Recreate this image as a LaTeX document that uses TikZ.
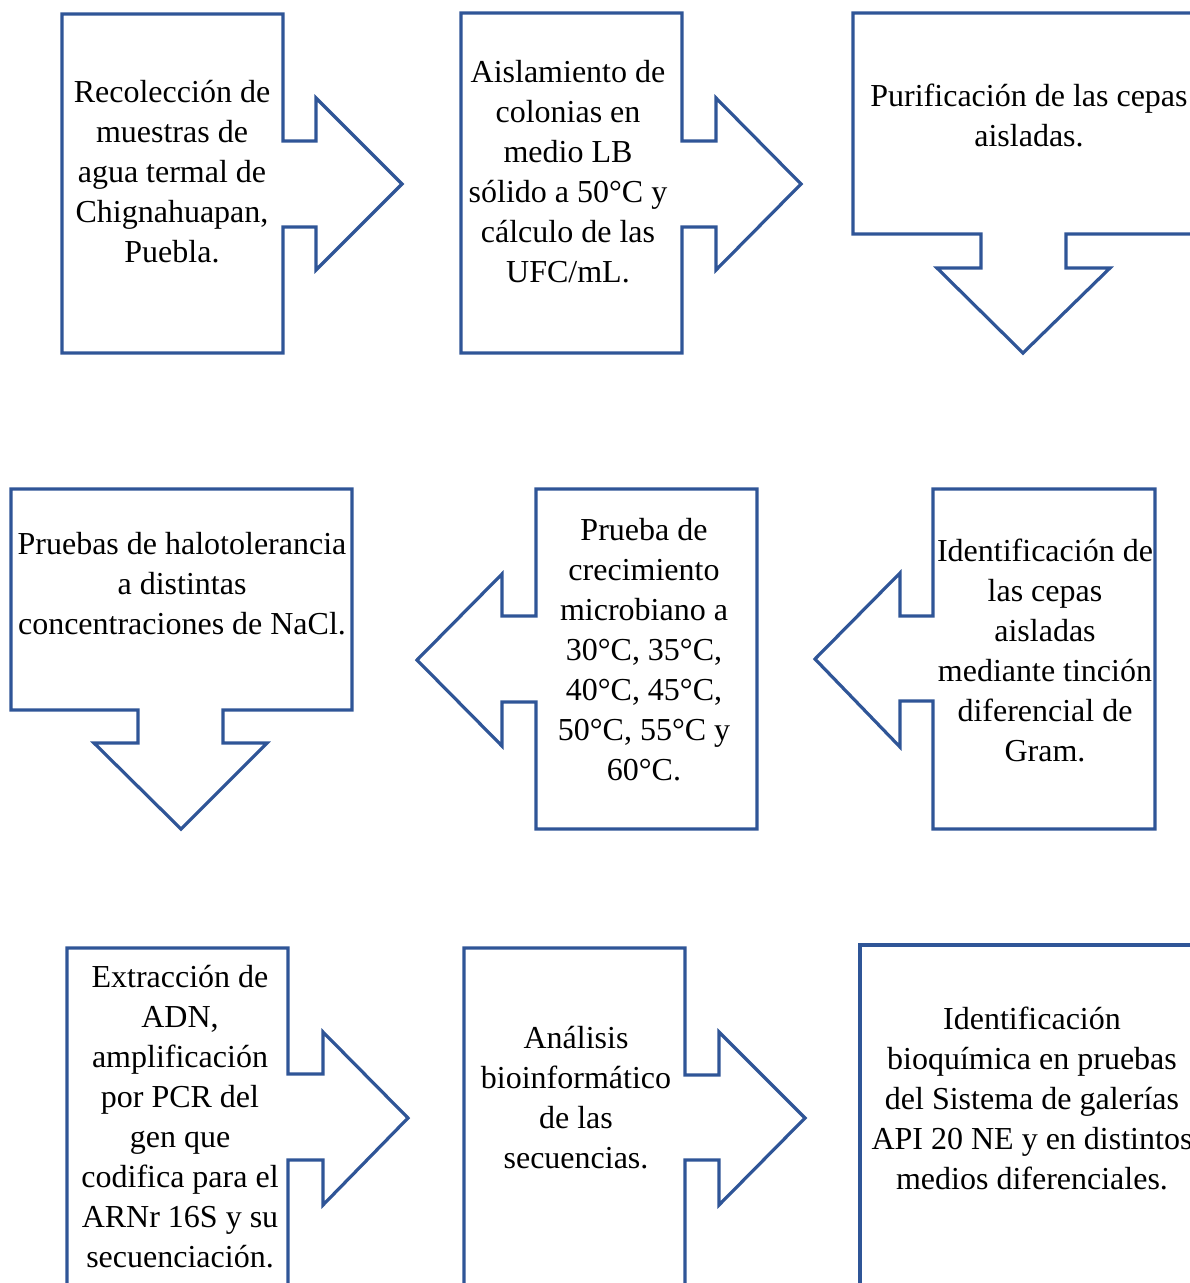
\documentclass[tikz,border=0pt]{standalone}
\usepackage{fontspec}
\setmainfont{Liberation Serif}
\usepackage{tikz}
\definecolor{azul}{HTML}{2F5597}

\begin{document}
\begin{tikzpicture}[x=0.75pt,y=-0.75pt,
  forma/.style={draw=azul,line width=2.4pt,line join=miter},
  texto/.style={align=center,inner sep=0pt,font=\fontsize{24}{30}\selectfont}]
  \useasboundingbox (0,0) rectangle (1190,1283);
  \clip (0,0) rectangle (1190,1283);
  % fila 1
  \draw[forma] (62,14) -- (283,14) -- (283,141) -- (316,141) -- (316,98) -- (402,184)
    -- (316,270) -- (316,227) -- (283,227) -- (283,353) -- (62,353) -- cycle;
  \node[texto] (recoleccion) at (172,171.5) {Recolección de\\muestras de\\agua termal de\\Chignahuapan,\\Puebla.};
  \draw[forma] (461,13) -- (682,13) -- (682,141) -- (716,141) -- (716,98) -- (801,184)
    -- (716,270) -- (716,227) -- (682,227) -- (682,353) -- (461,353) -- cycle;
  \node[texto] (aislamiento) at (568,171.5) {Aislamiento de\\colonias en\\medio LB\\sólido a 50°C y\\cálculo de las\\UFC/mL.};
  \draw[forma] (853,13) -- (1198,13) -- (1198,234) -- (1066,234) -- (1066,268) -- (1110,268)
    -- (1023,353) -- (937,268) -- (981,268) -- (981,234) -- (853,234) -- cycle;
  \node[texto] (purificacion) at (1029,115) {Purificación de las cepas\\aisladas.};
  % fila 2
  \draw[forma] (11,489) -- (352,489) -- (352,710) -- (223,710) -- (223,743) -- (267,743)
    -- (181,829) -- (94,743) -- (138,743) -- (138,710) -- (11,710) -- cycle;
  \node[texto] (halotolerancia) at (182,584) {Pruebas de halotolerancia\\a distintas\\concentraciones de NaCl.};
  \draw[forma] (536,489) -- (757,489) -- (757,829) -- (536,829) -- (536,702) -- (502,702)
    -- (502,746) -- (417,660) -- (502,574) -- (502,616) -- (536,616) -- cycle;
  \node[texto] (crecimiento) at (644,649.5) {Prueba de\\crecimiento\\microbiano a\\30°C, 35°C,\\40°C, 45°C,\\50°C, 55°C y\\60°C.};
  \draw[forma] (933,489) -- (1155,489) -- (1155,829) -- (933,829) -- (933,701) -- (900,701)
    -- (900,747) -- (815,659) -- (900,573) -- (900,616) -- (933,616) -- cycle;
  \node[texto] (gram) at (1045,650) {Identificación de\\las cepas\\aisladas\\mediante tinción\\diferencial de\\Gram.};
  % fila 3
  \draw[forma] (67,948) -- (288,948) -- (288,1074) -- (323,1074) -- (323,1032) -- (408,1118)
    -- (323,1205) -- (323,1160) -- (288,1160) -- (288,1292) -- (67,1292) -- cycle;
  \node[texto] (extraccion) at (180,1116.5) {Extracción de\\ADN,\\amplificación\\por PCR del\\gen que\\codifica para el\\ARNr 16S y su\\secuenciación.};
  \draw[forma] (464,948) -- (685,948) -- (685,1075) -- (719,1075) -- (719,1032) -- (805,1118)
    -- (719,1205) -- (719,1160) -- (685,1160) -- (685,1292) -- (464,1292) -- cycle;
  \node[texto] (bioinformatico) at (576,1097.5) {Análisis\\bioinformático\\de las\\secuencias.};
  \draw[forma] (860,945) rectangle (1198,1292);
  \node[texto] (bioquimica) at (1032,1098) {Identificación\\bioquímica en pruebas\\del Sistema de galerías\\API 20 NE y en distintos\\medios diferenciales.};
\end{tikzpicture}
\end{document}
